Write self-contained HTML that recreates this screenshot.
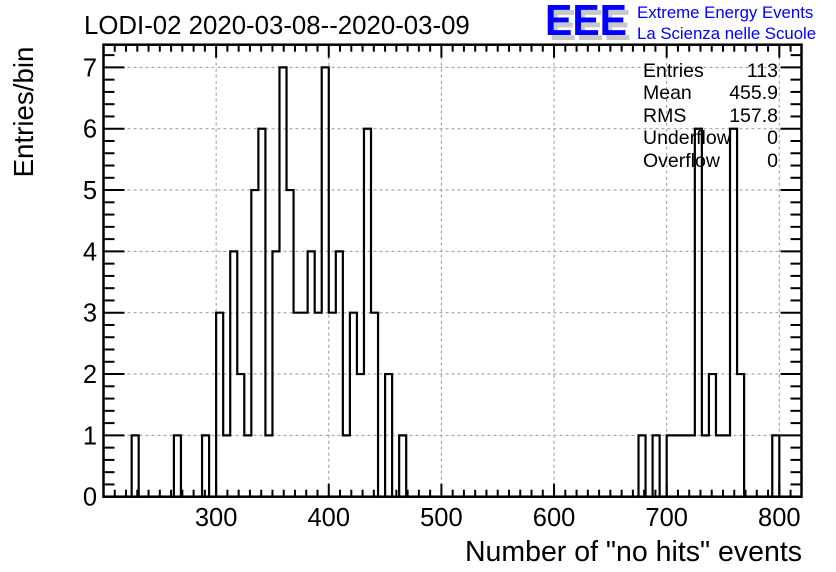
<!DOCTYPE html>
<html><head><meta charset="utf-8"><style>
body{margin:0;background:#fff}
svg{display:block;font-family:"Liberation Sans",sans-serif}
</style></head><body>
<svg id="chart" width="836" height="572" viewBox="0 0 836 572" xmlns="http://www.w3.org/2000/svg">
<rect width="836" height="572" fill="#fff"/>
<text x="84" y="34" font-size="25.8" fill="#000">LODI-02 2020-03-08--2020-03-09</text>
<g>
<text x="549" y="40" font-size="44" font-weight="bold" fill="#c8c8c8" textLength="82" lengthAdjust="spacingAndGlyphs">EEE</text>
<text x="545" y="35" font-size="44" font-weight="bold" fill="#0000ff" textLength="82" lengthAdjust="spacingAndGlyphs">EEE</text>
<text x="637" y="18" font-size="16.8" fill="#0000ff">Extreme Energy Events</text>
<text x="637" y="39" font-size="16.8" fill="#0000ff">La Scienza nelle Scuole</text>
</g>
<g id="grid"></g>
<g id="hist"></g>
<g id="axes"></g>
<g font-size="19.5" fill="#000">
<text x="643" y="77">Entries</text><text x="778" y="77" text-anchor="end">113</text>
<text x="643" y="99">Mean</text><text x="778" y="99" text-anchor="end">455.9</text>
<text x="643" y="122">RMS</text><text x="778" y="122" text-anchor="end">157.8</text>
<text x="643" y="144">Underflow</text><text x="778" y="144" text-anchor="end">0</text>
<text x="643" y="167">Overflow</text><text x="778" y="167" text-anchor="end">0</text>
</g>
<text transform="translate(33,112) rotate(-90)" text-anchor="middle" font-size="27.7">Entries/bin</text>
<text x="802" y="561" text-anchor="end" font-size="28.5">Number of "no hits" events</text>
</svg>
<script>
const binLow = 200;
const binWidth = 6.25;
const binCounts = [
0,0,0,0,1,0,0,0,0,0, 1,0,0,0,1,0,3,1,4,2, 1,5,6,1,4,7,5,3,3,4,
3,7,3,4,1,3,2,6,3,0, 2,0,1,0,0,0,0,0,0,0, 0,0,0,0,0,0,0,0,0,0,
0,0,0,0,0,0,0,0,0,0, 0,0,0,0,0,0,1,0,1,0, 1,1,1,1,6,1,2,1,1,6,
2,0,0,0,0,1,0,0,0
];
const xTicks = [300,400,500,600,700,800];
const yTicks = [0,1,2,3,4,5,6,7];

const NS="http://www.w3.org/2000/svg";
const X0=103.5, X1=801.5, Y0=496.7, Y1=44.7;
const xMin=200, xMax=819.7, yMax=7.37;
const sx=v=>X0+(v-xMin)/(xMax-xMin)*(X1-X0);
const sy=v=>Y0-v/yMax*(Y0-Y1);
function mk(tag,attrs,parent){const e=document.createElementNS(NS,tag);for(const k in attrs)e.setAttribute(k,attrs[k]);parent.appendChild(e);return e;}
const grid=document.getElementById('grid'), hist=document.getElementById('hist'), axes=document.getElementById('axes');

xTicks.forEach(t=>{
  const l=mk('line',{x1:sx(t),x2:sx(t),y1:Y1,y2:Y0,stroke:'#999','stroke-width':1,'stroke-dasharray':'3,3'},grid);
  
  
});
yTicks.forEach(t=>{
  if(t===0)return;
  const l=mk('line',{x1:X0,x2:X1,y1:sy(t),y2:sy(t),stroke:'#999','stroke-width':1,'stroke-dasharray':'3,3'},grid);
  
  
});

let d='M'+sx(binLow)+','+sy(0);
binCounts.forEach((c,i)=>{
  const a=binLow+i*binWidth, b=a+binWidth;
  d+=' L'+sx(a)+','+sy(c)+' L'+sx(b)+','+sy(c);
});
d+=' L'+sx(binLow+binCounts.length*binWidth)+','+sy(0);
const p=mk('path',{d:d,fill:'none',stroke:'#000','stroke-width':2.2},hist);



const fr=mk('rect',{x:X0,y:Y1,width:X1-X0,height:Y0-Y1,fill:'none',stroke:'#000','stroke-width':2.5},axes);



for(let v=200; v<=819; v+=10){
  const major=v%100===0, L=major?13:7;
  mk('line',{x1:sx(v),x2:sx(v),y1:Y0,y2:Y0-L,stroke:'#000','stroke-width':2},axes);
  mk('line',{x1:sx(v),x2:sx(v),y1:Y1,y2:Y1+L,stroke:'#000','stroke-width':2},axes);
}
xTicks.forEach(t=>{
  const tx=mk('text',{x:sx(t),y:526,'text-anchor':'middle','font-size':25.5},axes);
  tx.textContent=t;
  
  
});
for(let k=0;k<=36;k++){
  const v=k*0.2, major=k%5===0, L=major?21:11;
  mk('line',{x1:X0,x2:X0+L,y1:sy(v),y2:sy(v),stroke:'#000','stroke-width':2},axes);
  mk('line',{x1:X1,x2:X1-L,y1:sy(v),y2:sy(v),stroke:'#000','stroke-width':2},axes);
}
yTicks.forEach(t=>{
  const tx=mk('text',{x:97,y:sy(t)+9,'text-anchor':'end','font-size':25.5},axes);
  tx.textContent=t;
  
  
});
</script>
</body></html>
